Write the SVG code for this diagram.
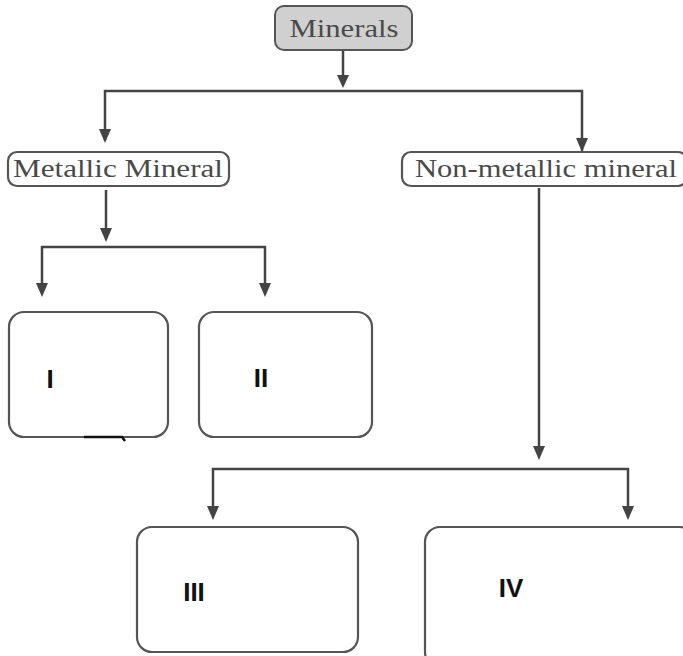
<svg xmlns="http://www.w3.org/2000/svg" width="683" height="656" viewBox="0 0 683 656">
<defs>
<marker id="ah" viewBox="0 0 12 14" refX="6" refY="14" markerWidth="12" markerHeight="14" markerUnits="userSpaceOnUse" orient="auto-start-reverse">
<path d="M0,0 L12,0 L6,14 Z" fill="#444"/>
</marker>
<style>
.lbl{font-family:"Liberation Serif","DejaVu Serif",serif;font-size:25px;fill:#4a4a4a;text-anchor:middle}
.num{font-family:"Liberation Sans",Arial,sans-serif;font-weight:bold;font-size:26px;fill:#111;text-anchor:middle}
.box{fill:#fff;stroke:#555;stroke-width:2.2}
.cn{fill:none;stroke:#444;stroke-width:2.5}
</style>
</defs>
<rect width="683" height="656" fill="#fff"/>
<g id="connectors">
<path class="cn" d="M343,51 V75"/>
<path d="M337,75 L349,75 L343,88 Z" fill="#444"/>
<path class="cn" d="M105,140 V91 H582 V152"/>
<path d="M99,129 L111,129 L105,143 Z" fill="#444"/>
<path d="M576,138 L588,138 L582,152 Z" fill="#444"/>
<path class="cn" d="M106,190 V230"/>
<path d="M100,228 L112,228 L106,242 Z" fill="#444"/>
<path class="cn" d="M42,285 V247 H265 V285"/>
<path d="M36,283 L48,283 L42,297 Z" fill="#444"/>
<path d="M259,283 L271,283 L265,297 Z" fill="#444"/>
<path class="cn" d="M539,188 V448"/>
<path d="M533,446 L545,446 L539,460 Z" fill="#444"/>
<path class="cn" d="M213,508 V469 H628 V508"/>
<path d="M207,506 L219,506 L213,520 Z" fill="#444"/>
<path d="M622,506 L634,506 L628,520 Z" fill="#444"/>
</g>
<g id="minerals">
<rect x="275" y="6" width="137" height="44" rx="9" fill="#d0d0d0" stroke="#555" stroke-width="2"/>
<text class="lbl" x="344" y="37" textLength="109" lengthAdjust="spacingAndGlyphs">Minerals</text>
</g>
<g id="metallic">
<rect class="box" x="8" y="152" width="221" height="34" rx="9"/>
<text class="lbl" x="118" y="177" textLength="210" lengthAdjust="spacingAndGlyphs">Metallic Mineral</text>
</g>
<g id="nonmetallic">
<rect class="box" x="402" y="152" width="285" height="34" rx="9"/>
<text class="lbl" x="546" y="177" textLength="262" lengthAdjust="spacingAndGlyphs">Non-metallic mineral</text>
</g>
<g id="box1">
<rect class="box" x="9" y="312" width="159" height="125" rx="15"/>
<text class="num" x="50" y="388">I</text>
<path d="M84,437 H122 L125,441" fill="none" stroke="#111" stroke-width="2.5"/>
</g>
<g id="box2">
<rect class="box" x="199" y="312" width="173" height="125" rx="15"/>
<text class="num" x="261" y="387">II</text>
</g>
<g id="box3">
<rect class="box" x="137" y="527" width="221" height="125" rx="15"/>
<text class="num" x="194" y="601">III</text>
</g>
<g id="box4">
<rect class="box" x="425" y="527" width="270" height="140" rx="15"/>
<text class="num" x="511" y="597">IV</text>
</g>
</svg>
